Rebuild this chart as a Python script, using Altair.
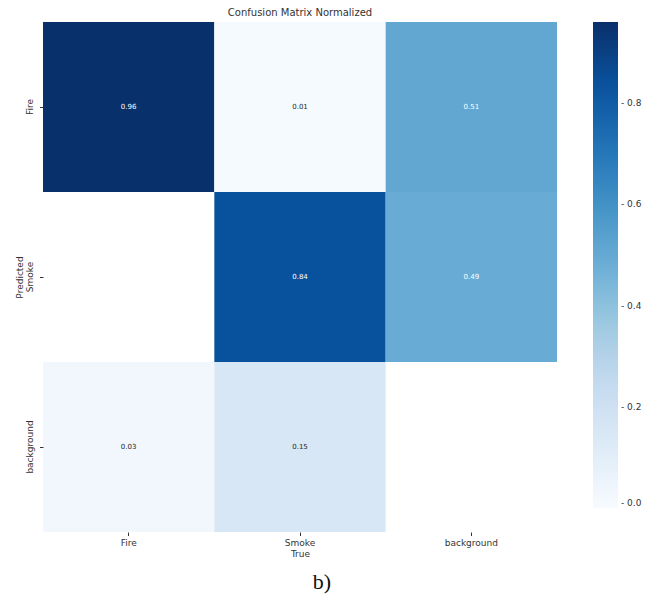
import altair as alt
import pandas as pd

# Class names (rows = predicted, columns = true)
classes = ["Fire", "Smoke", "background"]

# Normalized confusion matrix values; None marks an empty (zero) cell
row_fire = [0.96, 0.01, 0.51]
row_smoke = [None, 0.84, 0.49]
row_background = [0.03, 0.15, None]

# Colorbar tick values
bar_ticks = [0.0, 0.2, 0.4, 0.6, 0.8]

# matplotlib "Blues" colour stops
blues = ["#f7fbff", "#deebf7", "#c6dbef", "#9ecae1", "#6baed6",
         "#4292c6", "#2171b5", "#08519c", "#08306b"]
vmax = 0.96
stops = [vmax * i / (len(blues) - 1) for i in range(len(blues))]

records = []
for pred, row in zip(classes, [row_fire, row_smoke, row_background]):
    for true, v in zip(classes, row):
        if v is not None:
            records.append({"True": true, "Predicted": pred, "value": v})
df = pd.DataFrame(records)

FONT = "DejaVu Sans"

x_enc = alt.X("True:N", sort=classes,
              scale=alt.Scale(paddingInner=0, paddingOuter=0),
              axis=alt.Axis(title="True", labelAngle=0, domain=False,
                            tickSize=3.5, tickColor="#333", labelPadding=3,
                            labelFontSize=9, titleFontSize=9,
                            titleFontWeight="normal", titlePadding=2,
                            labelColor="#333", titleColor="#333"))
y_enc = alt.Y("Predicted:N", sort=classes,
              scale=alt.Scale(paddingInner=0, paddingOuter=0),
              axis=alt.Axis(title="Predicted", labelAngle=-90, domain=False,
                            tickSize=3.5, tickColor="#333", labelPadding=5,
                            labelFontSize=9, titleFontSize=9,
                            titleFontWeight="normal", titlePadding=1,
                            labelAlign="center", labelBaseline="bottom",
                            labelColor="#333", titleColor="#333"))

cells = alt.Chart(df).mark_rect().encode(
    x=x_enc,
    y=y_enc,
    color=alt.Color("value:Q",
                    scale=alt.Scale(domain=stops, range=blues),
                    legend=alt.Legend(title=None, orient="none",
                                      legendX=550, legendY=0,
                                      direction="vertical",
                                      gradientLength=486,
                                      gradientThickness=25,
                                      gradientStrokeWidth=0,
                                      values=bar_ticks, format=".1f",
                                      labelExpr="'- ' + datum.label",
                                      labelFontSize=9, labelColor="#333",
                                      labelOffset=3, labelFont=FONT)),
)

labels = alt.Chart(df).mark_text(fontSize=7, font=FONT).encode(
    x=alt.X("True:N", sort=classes),
    y=alt.Y("Predicted:N", sort=classes),
    text=alt.Text("value:Q", format=".2f"),
    color=alt.condition(alt.datum.value > 0.3, alt.value("#ffffff"),
                        alt.value("#262626")),
)

caption = alt.Chart(pd.DataFrame({"t": ["b)"]})).mark_text(
    font="Liberation Serif", fontSize=22, color="#111", baseline="middle"
).encode(text="t:N", x=alt.value(279), y=alt.value(560))

chart = alt.layer(cells, labels, caption).properties(
    width=514, height=510,
    title=alt.TitleParams("Confusion Matrix Normalized", fontSize=10,
                          fontWeight="normal", font=FONT, color="#333",
                          offset=4, anchor="middle"),
    autosize="none",
    padding={"left": 43, "top": 22, "right": 88, "bottom": 72},
).configure(font=FONT).configure_view(stroke=None).configure_axis(
    labelFont=FONT, titleFont=FONT, grid=False)

chart.save("out.html", embed_options={"renderer": "svg", "actions": False})
